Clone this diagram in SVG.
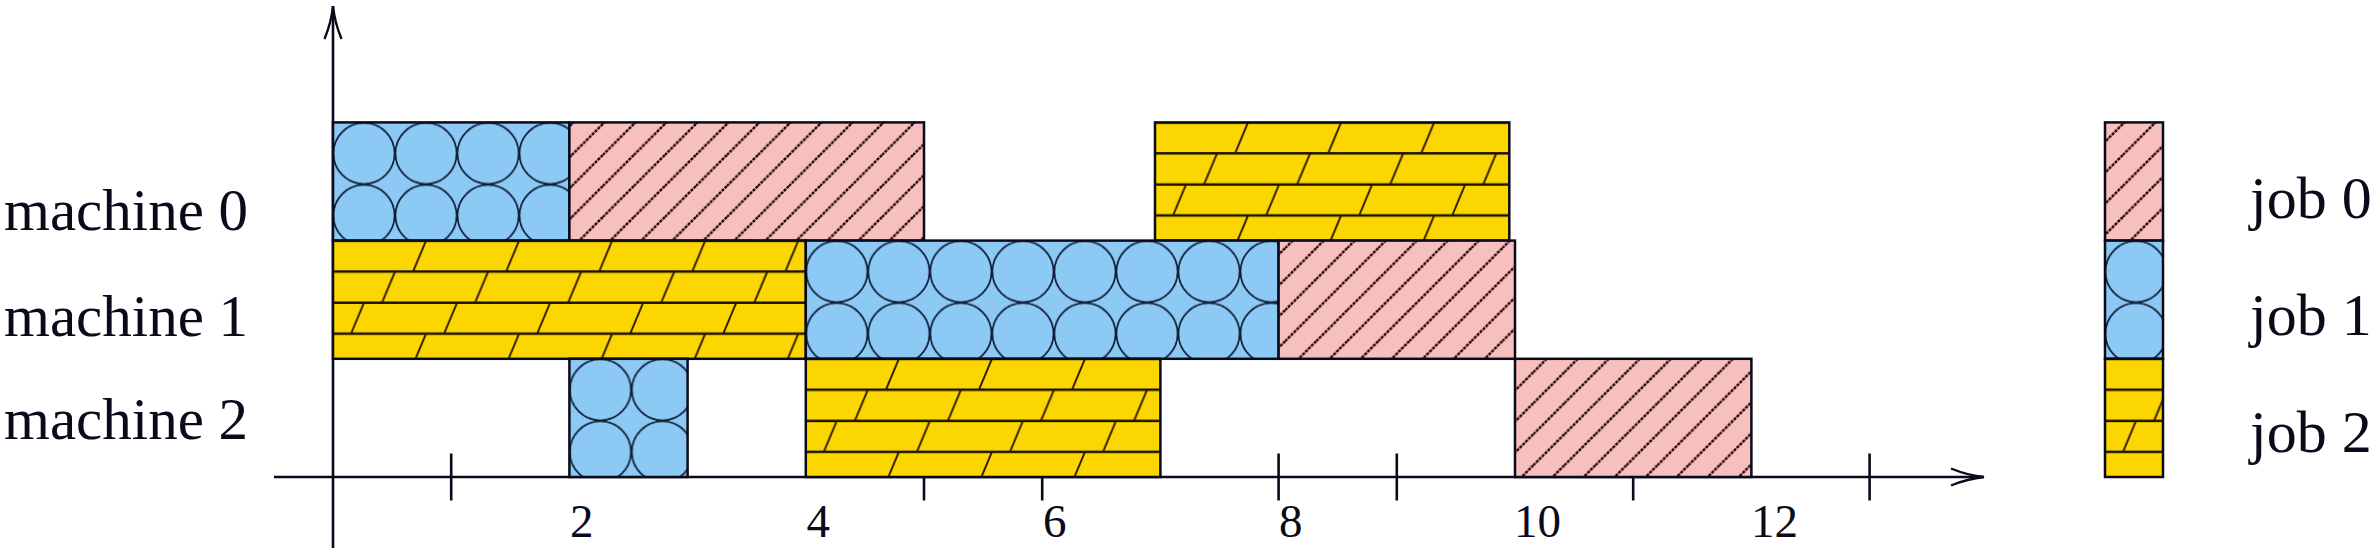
<svg xmlns="http://www.w3.org/2000/svg" width="2375" height="554" viewBox="0 0 2375 554">
<style>
.ax{fill:none;stroke:#0a0a1a;stroke-width:2.6}
.bar{stroke:#0a0a1a;stroke-width:2.5}
.t{font-family:"Liberation Serif","Times New Roman",serif;fill:#0a0a1a}
.row{font-size:59px}
.job{font-size:60px}
.tick{font-size:47px}
</style>
<defs>
<marker id="arr" markerUnits="userSpaceOnUse" markerWidth="40" markerHeight="24" refX="34" refY="12" orient="auto" viewBox="0 0 40 24">
<path d="M1,3.5 C12,8 24,11 34,12 C24,13 12,16 1,20.5" fill="none" stroke="#0a0a1a" stroke-width="2.4"/>
</marker>
<pattern id="hatch" patternUnits="userSpaceOnUse" x="13.4" y="0" width="31.02" height="31.02">
<rect width="31.02" height="31.02" fill="#F8BFBF"/>
<path d="M-3,34.02 L34.02,-3 M-5,5 L5,-5 M26.02,36.02 L36.02,26.02" stroke="#1c0404" stroke-width="2.4" stroke-dasharray="3 1.1" fill="none"/>
</pattern>
<pattern id="circ" patternUnits="userSpaceOnUse" width="62.04" height="62.04">
<rect width="62.04" height="62.04" fill="#8CC9F4"/>
<g fill="none" stroke="#0f1d36" stroke-width="1.7">
<circle cx="31.02" cy="31.02" r="30.6"/>
<circle cx="-31.02" cy="31.02" r="30.6"/>
<circle cx="93.06" cy="31.02" r="30.6"/>
<circle cx="31.02" cy="-31.02" r="30.6"/>
<circle cx="31.02" cy="93.06" r="30.6"/>
</g>
</pattern>
<pattern id="brick" patternUnits="userSpaceOnUse" width="93.06" height="93.06">
<rect width="93.06" height="93.06" fill="#FCD600"/>
<path d="M0,0 H93.06 M0,31.02 H93.06 M0,62.04 H93.06 M0,93.06 H93.06" stroke="#1a1200" stroke-width="2.4" fill="none"/>
<path d="M-13,31.02 L0,0 M80.06,31.02 L93.06,0 M49.04,62.04 L62.04,31.02 M18.02,93.06 L31.02,62.04" stroke="#2a1800" stroke-width="1.9" fill="none"/>
</pattern>
</defs>

<g id="axes">
<line class="ax" x1="274" y1="477" x2="1984" y2="477" marker-end="url(#arr)"/>
<line class="ax" x1="333" y1="548" x2="333" y2="6" marker-end="url(#arr)"/>
<path class="ax" d="M451.2,453.4 V500.6 M924,453.4 V500.6 M1042.2,453.4 V500.6 M1278.6,453.4 V500.6 M1396.8,453.4 V500.6 M1633.2,453.4 V500.6 M1869.6,453.4 V500.6"/>
</g>

<g id="machine0">
<g transform="translate(333,122.4)"><rect class="bar" width="236.4" height="118.2" fill="url(#circ)"/></g>
<rect class="bar" x="569.4" y="122.4" width="354.6" height="118.2" fill="url(#hatch)"/>
<g transform="translate(1155,122.4)"><rect class="bar" width="354.3" height="118.2" fill="url(#brick)"/></g>
</g>
<g id="machine1">
<g transform="translate(333,240.6)"><rect class="bar" width="472.8" height="118.2" fill="url(#brick)"/></g>
<g transform="translate(805.8,240.6)"><rect class="bar" width="472.8" height="118.2" fill="url(#circ)"/></g>
<rect class="bar" x="1278.6" y="240.6" width="236.4" height="118.2" fill="url(#hatch)"/>
</g>
<g id="machine2">
<g transform="translate(569.4,358.8)"><rect class="bar" width="118.2" height="118.2" fill="url(#circ)"/></g>
<g transform="translate(805.8,358.8)"><rect class="bar" width="354.6" height="118.2" fill="url(#brick)"/></g>
<rect class="bar" x="1515" y="358.8" width="236.4" height="118.2" fill="url(#hatch)"/>
</g>

<g id="legend">
<rect class="bar" x="2105" y="122.4" width="58" height="118.2" fill="url(#hatch)"/>
<g transform="translate(2105,240.6)"><rect class="bar" width="58" height="118.2" fill="url(#circ)"/></g>
<g transform="translate(2105,358.8)"><rect class="bar" width="58" height="118.2" fill="url(#brick)"/></g>
<text class="t job" x="2250" y="218">job 0</text>
<text class="t job" x="2250" y="335">job 1</text>
<text class="t job" x="2250" y="452">job 2</text>
</g>

<g id="row-labels">
<text class="t row" x="4" y="230">machine 0</text>
<text class="t row" x="4" y="336">machine 1</text>
<text class="t row" x="4" y="439">machine 2</text>
</g>

<g id="tick-labels">
<text class="t tick" x="570" y="537">2</text>
<text class="t tick" x="806.5" y="537">4</text>
<text class="t tick" x="1043" y="537">6</text>
<text class="t tick" x="1279" y="537">8</text>
<text class="t tick" x="1514" y="537">10</text>
<text class="t tick" x="1751" y="537">12</text>
</g>
</svg>
